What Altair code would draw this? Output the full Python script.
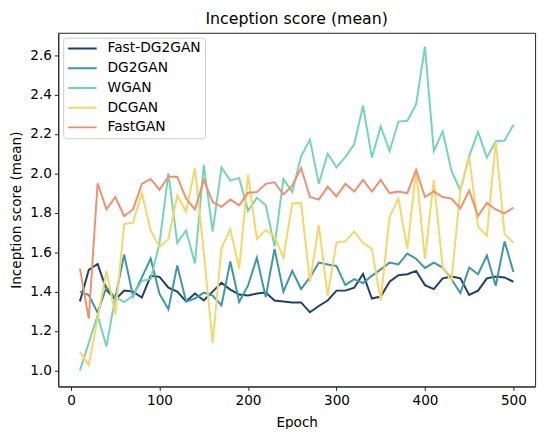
import altair as alt
import pandas as pd

epochs = list(range(10, 501, 10))

fast_dg2gan = [1.35, 1.51, 1.54, 1.41, 1.36, 1.405, 1.40, 1.37, 1.48, 1.475,
               1.42, 1.40, 1.35, 1.39, 1.355, 1.40, 1.445, 1.41, 1.385, 1.38,
               1.39, 1.395, 1.355, 1.35, 1.345, 1.345, 1.295, 1.327, 1.355, 1.405,
               1.405, 1.42, 1.49, 1.365, 1.375, 1.45, 1.483, 1.488, 1.505, 1.433,
               1.413, 1.467, 1.477, 1.467, 1.383, 1.405, 1.467, 1.477, 1.472, 1.45]

dg2gan = [1.40, 1.383, 1.293, 1.422, 1.367, 1.588, 1.377, 1.472, 1.567, 1.388,
          1.31, 1.533, 1.35, 1.365, 1.395, 1.38, 1.33, 1.553, 1.347, 1.43,
          1.572, 1.372, 1.617, 1.40, 1.505, 1.413, 1.472, 1.547, 1.538, 1.53,
          1.433, 1.463, 1.443, 1.48, 1.513, 1.547, 1.538, 1.593, 1.567, 1.52,
          1.547, 1.522, 1.463, 1.393, 1.522, 1.488, 1.583, 1.43, 1.655, 1.50]

wgan = [1.0, 1.14, 1.28, 1.122, 1.372, 1.347, 1.38, 1.455, 1.463, 1.647,
        2.0, 1.647, 1.71, 1.543, 2.043, 1.705, 2.03, 1.963, 1.977, 1.81,
        1.877, 1.838, 1.63, 1.972, 1.905, 2.088, 2.17, 1.947, 2.10, 2.03,
        2.083, 2.147, 2.343, 2.08, 2.238, 2.113, 2.263, 2.267, 2.35, 2.643,
        2.113, 2.213, 2.013, 1.913, 2.088, 2.21, 2.08, 2.163, 2.167, 2.247]

dcgan = [1.093, 1.027, 1.263, 1.505, 1.283, 1.743, 1.75, 1.90, 1.71, 1.627,
         1.667, 1.888, 1.805, 2.027, 1.60, 1.138, 1.622, 1.717, 1.517, 1.993,
         1.667, 1.713, 1.68, 1.572, 1.847, 1.85, 1.45, 1.738, 1.38, 1.65,
         1.655, 1.705, 1.647, 1.617, 1.355, 1.78, 1.872, 1.617, 2.013, 1.567,
         1.967, 1.522, 1.455, 1.913, 2.083, 1.73, 1.683, 2.163, 1.693, 1.647]

fastgan = [1.517, 1.263, 1.95, 1.817, 1.88, 1.783, 1.817, 1.947, 1.972, 1.917,
           1.983, 1.983, 1.872, 1.817, 1.967, 1.855, 1.83, 1.867, 1.838, 1.902,
           1.905, 1.947, 1.955, 1.893, 1.938, 2.027, 1.88, 1.867, 1.933, 1.883,
           1.947, 1.908, 1.967, 1.908, 1.967, 1.90, 1.908, 1.90, 2.017, 1.88,
           1.908, 1.88, 1.872, 1.822, 1.913, 1.783, 1.85, 1.817, 1.797, 1.827]

series_names = ["Fast-DG2GAN", "DG2GAN", "WGAN", "DCGAN", "FastGAN"]
series_values = [fast_dg2gan, dg2gan, wgan, dcgan, fastgan]
colors = ["#1d3f6e", "#3a99a1", "#70d6b6", "#f9d565", "#f0906d"]

rows = []
for i, (name, vals) in enumerate(zip(series_names, series_values)):
    for e, v in zip(epochs, vals):
        rows.append({"Epoch": e, "score": v, "model": name, "k": i})
df = pd.DataFrame(rows)

chart = alt.Chart(df).mark_line(strokeWidth=2, clip=True).encode(
    x=alt.X("Epoch:Q",
            scale=alt.Scale(domain=[-14.5, 524.5], nice=False, zero=False),
            axis=alt.Axis(title="Epoch", values=[0, 100, 200, 300, 400, 500],
                          grid=False, format="d", titlePadding=9)),
    y=alt.Y("score:Q",
            scale=alt.Scale(domain=[0.9185, 2.7135], nice=False, zero=False),
            axis=alt.Axis(title="Inception score (mean)",
                          values=[1.0, 1.2, 1.4, 1.6, 1.8, 2.0, 2.2, 2.4, 2.6],
                          grid=False, format=".1f", titlePadding=6)),
    color=alt.Color("model:N",
                    scale=alt.Scale(domain=series_names, range=colors),
                    legend=alt.Legend(title=None, orient="none", legendX=5, legendY=5,
                                      fillColor="white", strokeColor="#cccccc",
                                      cornerRadius=3, padding=4,
                                      symbolType="stroke", symbolStrokeWidth=2,
                                      symbolSize=841, clipHeight=14,
                                      labelFontSize=14,
                                      labelFont="DejaVu Sans", rowPadding=6,
                                      labelOffset=10, labelColor="#000")),
    detail="k:O",
).properties(
    width=484, height=359,
    title=alt.TitleParams("Inception score (mean)", fontSize=16, font="DejaVu Sans",
                          fontWeight="normal", color="#000", offset=6),
    autosize=alt.AutoSizeParams(type="none"),
    padding={"left": 51, "top": 22, "right": 7, "bottom": 40},
).configure_view(
    stroke="#222", strokeWidth=1
).configure_axis(
    labelFont="DejaVu Sans", titleFont="DejaVu Sans", labelFontSize=13.8,
    titleFontSize=13.8, titleFontWeight="normal", labelColor="#000", titleColor="#000",
    domainColor="#222", tickColor="#222", tickSize=4, labelPadding=3,
    domainWidth=1, tickWidth=1
)

chart.save("out.html", embed_options={"renderer": "svg", "actions": False})
